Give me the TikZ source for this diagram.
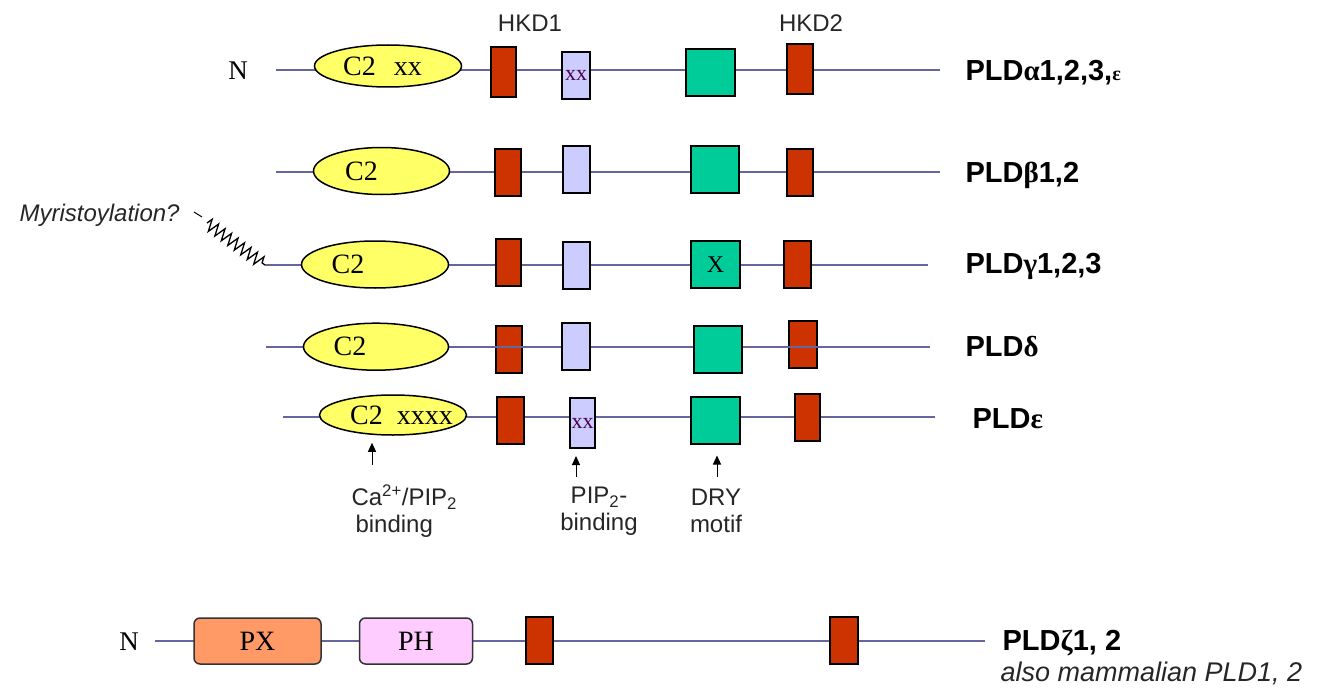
\documentclass[tikz,border=0pt]{standalone}
\usepackage{fontspec}
\setmainfont{Liberation Serif}
\setsansfont{Liberation Sans}
\usepackage{xcolor}
\usetikzlibrary{arrows.meta,positioning,shapes.geometric,decorations.pathmorphing}
\definecolor{bone}{RGB}{102,102,158}
\definecolor{hkd}{RGB}{204,51,0}
\definecolor{lav}{RGB}{204,204,255}
\definecolor{dry}{RGB}{0,204,153}
\definecolor{ctwo}{RGB}{255,255,102}
\definecolor{pxc}{RGB}{255,153,102}
\definecolor{phc}{RGB}{255,204,255}

\begin{document}
\begin{tikzpicture}[x=1pt,y=-1pt,font=\sffamily,
bone/.style={draw=bone,line width=2.5pt},
c2/.style={ellipse,draw=black,line width=1.5pt,fill=ctwo,inner sep=0pt,minimum width=#1,minimum height=47pt,font=\rmfamily\fontsize{28}{28}\selectfont},
dombox/.style={rectangle,draw=black,line width=2pt,fill=#1,inner sep=0pt,minimum width=27pt,minimum height=47pt},
hkdbox/.style={dombox=hkd,minimum width=26pt},
pipbox/.style={dombox=lav,font=\rmfamily\fontsize{22}{22}\selectfont\color{violet!60!black}},
drybox/.style={dombox=dry,minimum width=49pt,font=\rmfamily\fontsize{24}{24}\selectfont},
lipbox/.style={rectangle,rounded corners=6pt,draw=black!80,line width=1.5pt,fill=#1,minimum height=46pt,font=\rmfamily\fontsize{28}{28}\selectfont},
pld/.style={anchor=west,font=\sffamily\bfseries\fontsize{29}{31}\selectfont},
nterm/.style={font=\rmfamily\fontsize{27}{27}\selectfont},
note/.style={font=\sffamily\fontsize{24}{27}\selectfont,color=black!85},
uparrow/.style={-{Triangle[length=9pt,width=8pt]},line width=1pt}]
\useasboundingbox (0,0) rectangle (1338,690);
% PLD alpha
\coordinate (a0) at (276,70); \coordinate (a1) at (940,70);
\draw[bone] (a0) -- (a1);
\node[nterm] (na) at (238,71) {N};
\node[c2=147pt,minimum height=42pt] (ca) at (388,66) {\makebox[0pt]{C2\hspace{18pt}xx\hspace{11pt}}};
\node[hkdbox,minimum width=25pt,minimum height=50pt] (ha) at (503.5,72) {};
\node[pipbox,minimum width=28pt] (pa) at (576,75.5) {xx};
\node[drybox] (da) at (710.5,73) {};
\node[hkdbox,minimum height=50pt] (ka) at (799.5,69) {};
\node[note] (hkd1) at (530,23) {HKD1};
\node[note] (hkd2) at (811,23) {HKD2};
\node[pld] (la) at (962,73) {PLD\textrm{α}1,2,3,{\fontsize{20}{20}\selectfont\textrm{ε}}};
% PLD beta
\coordinate (b0) at (276,172); \coordinate (b1) at (940,172);
\draw[bone] (b0) -- (b1);
\node[c2=136pt] (cb) at (381.5,171) {\makebox[0pt]{C2\hspace{40pt}}};
\node[hkdbox] (hb) at (508,172.5) {};
\node[pipbox] (pb) at (576,169.5) {};
\node[drybox,minimum width=48pt] (db) at (715,169.5) {};
\node[hkdbox] (kb) at (800,172.5) {};
\node[pld] (lb) at (962,175) {PLD\textrm{β}1,2};
% PLD gamma
\coordinate (g0) at (265,265); \coordinate (g1) at (928,265);
\draw[bone] (g0) -- (g1);
\node[note,font=\sffamily\itshape\fontsize{24}{24}\selectfont,anchor=west] (myr) at (16,215) {Myristoylation?};
\coordinate (m0) at (194,212); \coordinate (m1) at (202,217); \coordinate (m2) at (207,223);
\draw[line width=1pt] (m0) -- (m1);
\draw[line width=1.3pt,decorate,decoration={zigzag,segment length=8pt,amplitude=6pt}] (m2) -- (g0);
\node[c2=147pt] (cg) at (375,264.5) {\makebox[0pt]{C2\hspace{54pt}}};
\node[hkdbox,minimum width=25pt] (hg) at (508.5,262) {};
\node[pipbox] (pg) at (576,265) {};
\node[drybox] (dg) at (715.5,264.7) {X};
\node[hkdbox,minimum width=27pt] (kg) at (797,264.7) {};
\node[pld] (lg) at (962,266) {PLD\textrm{γ}1,2,3};
% PLD delta
\coordinate (e0) at (266,347); \coordinate (e1) at (930,347);
\draw[bone] (e0) -- (e1);
\node[c2=145pt] (cd) at (376,346.7) {\makebox[0pt]{C2\hspace{52pt}}};
\node[hkdbox] (hd) at (509,349.5) {};
\node[pipbox,minimum width=28pt] (pd) at (576,346.7) {};
\node[drybox,minimum width=48pt] (dd) at (718,349) {};
\node[hkdbox,minimum width=28pt] (kd) at (802.5,344.5) {};
\draw[bone] (hd.west |- e0) -- (hd.east |- e0) (kd.west |- e0) -- (kd.east |- e0);
\node[pld] (ld) at (962,347) {PLD\textrm{δ}};
% PLD epsilon
\coordinate (p0) at (283,417); \coordinate (p1) at (935,417);
\draw[bone] (p0) -- (p1);
\node[c2=147pt,minimum height=40pt] (ce) at (393,415) {\makebox[0pt]{\hspace{17pt}C2\hspace{14pt}xxxx}};
\node[hkdbox,minimum width=27pt] (he) at (510,420) {};
\node[pipbox,minimum width=25pt,minimum height=50pt] (pe) at (582.5,423) {xx};
\node[drybox] (de) at (715.5,420) {};
\node[hkdbox,minimum width=25pt] (ke) at (807,417) {};
\node[pld] (le) at (969,419) {PLD\textrm{ε}};
% binding sites
\coordinate (s1) at (372,465); \coordinate (s2) at (576,477); \coordinate (s3) at (717,477);
\draw[uparrow,shorten >=7pt] (s1) -- (s1 |- ce.south);
\draw[uparrow,shorten >=7pt] (s2) -- (s2 |- pe.south);
\draw[uparrow,shorten >=11pt] (s3) -- (s3 |- de.south);
\node[note,align=left,anchor=west] (bca) at (348,511) {Ca\textsuperscript{2+}/PIP\textsubscript{2}\\\hspace{4pt}binding};
\node[note,align=center] (bpip) at (599,511) {PIP\textsubscript{2}-\\binding};
\node[note,align=center] (bdry) at (716,511) {DRY\\motif};
% PLD zeta
\coordinate (z0) at (155,641); \coordinate (z1) at (985,641);
\draw[bone] (z0) -- (z1);
\node[nterm] (nz) at (129,642) {N};
\node[lipbox=pxc,minimum width=127pt] (px) at (257.5,641) {PX};
\node[lipbox=phc,minimum width=113pt] (ph) at (416,641) {PH};
\node[hkdbox,minimum width=27pt] (hz) at (539,640) {};
\node[hkdbox,minimum width=28pt] (kz) at (844,640) {};
\node[pld] (lz) at (999,643) {PLD\textrm{ζ}1, 2};
\node[anchor=west,font=\sffamily\itshape\fontsize{27}{27}\selectfont,color=black!85] (mam) at (997,673) {also mammalian PLD1, 2};
\end{tikzpicture}
\end{document}
